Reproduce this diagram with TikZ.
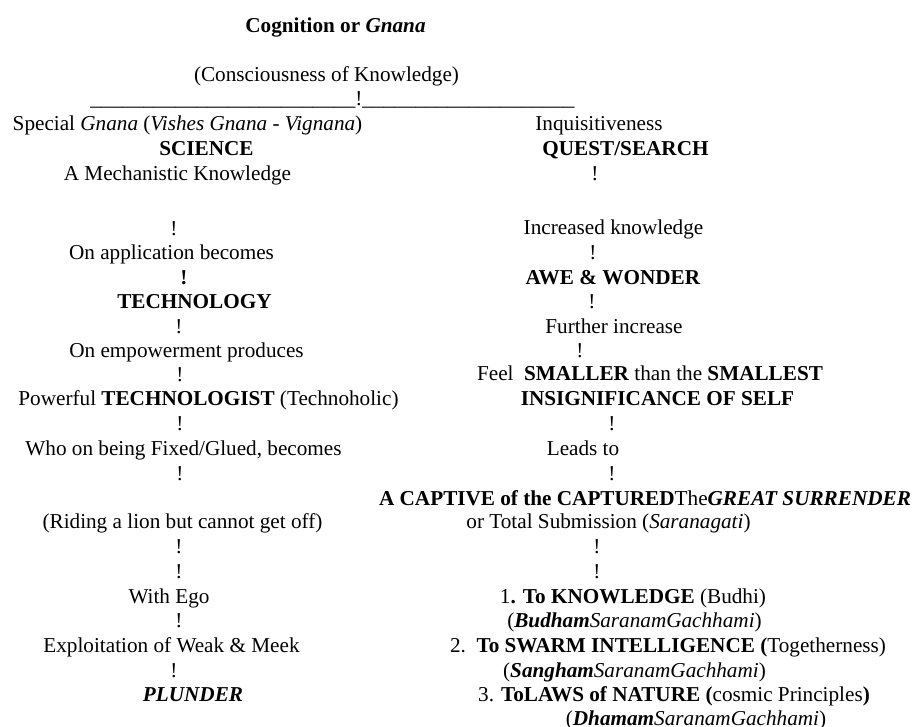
\documentclass[tikz,border=0pt]{standalone}
\usepackage{fontspec}
\setmainfont{Liberation Serif}
\newcommand{\bi}[1]{\textbf{\textit{#1}}}
\begin{document}
\begin{tikzpicture}[x=0.566pt, y=-0.566pt,
  every node/.style={anchor=base, inner sep=0pt, font=\fontsize{12}{14}\selectfont}]
\useasboundingbox (0,0) rectangle (915,727);

\node (title) at (335.5,33) {\textbf{Cognition or \textit{Gnana}}};
\node (consc) at (326.5,82) {(Consciousness of Knowledge)};
\node[anchor=base west] (split) at (90,106)
  {\_\_\_\_\_\_\_\_\_\_\_\_\_\_\_\_\_\_\_\_\_\_\_\_\_!\_\_\_\_\_\_\_\_\_\_\_\_\_\_\_\_\_\_\_\_};

% left branch
\node (special) at (187.5,131) {Special \textit{Gnana} (\textit{Vishes Gnana - Vignana})};
\node (science) at (206.5,155.5) {\textbf{SCIENCE}};
\node (mech) at (177.5,180) {A Mechanistic Knowledge};
\node (apply) at (171.5,259) {On application becomes};
\node (bangb) at (184,284) {\textbf{!}};
\node (techn) at (194.5,308) {\textbf{TECHNOLOGY}};
\node (empower) at (186.5,357) {On empowerment produces};
\node (powerful) at (208.5,405) {Powerful \textbf{TECHNOLOGIST} (Technoholic)};
\node (who) at (183.5,455) {Who on being Fixed/Glued, becomes};
\node (riding) at (182.5,528) {(Riding a lion but cannot get off)};
\node (ego) at (169,603) {With Ego};
\node (exploit) at (171.5,652) {Exploitation of Weak \& Meek};
\node (plunder) at (193,701) {\bi{PLUNDER}};
\foreach \x/\y/\n in {174/235/la, 179/333/lb, 180/381/lc, 180/430/ld, 180/480/le,
                      179/553/lf, 179/578/lg, 179/627/lh, 174/677/li}
{
    \node (\n) at (\x,\y) {!};
}

% right branch
\node (inq) at (599,131) {Inquisitiveness};
\node (quest) at (625.5,155.5) {\textbf{QUEST/SEARCH}};
\node (incr) at (613.5,234) {Increased knowledge};
\node (awe) at (613,284) {\textbf{AWE \& WONDER}};
\node (further) at (614,333) {Further increase};
\node (feel) at (650,380) {Feel\ \ \textbf{SMALLER} than the \textbf{SMALLEST}};
\node (insig) at (657.5,405) {\textbf{INSIGNIFICANCE OF SELF}};
\node (leads) at (583,455) {Leads to};
\node (captive) at (645,505) {\textbf{A CAPTIVE of the CAPTURED}The\bi{GREAT SURRENDER}};
\node (total) at (608.5,528) {or Total Submission (\textit{Saranagati})};
\node (know) at (633,603) {1\textbf{. To KNOWLEDGE} (Budhi)};
\node (budham) at (634.5,627) {(\bi{Budham}\textit{SaranamGachhami})};
\node (swarm) at (668,652) {2.\ \ \textbf{To SWARM INTELLIGENCE (}Togetherness)};
\node (sangham) at (634.5,677) {(\bi{Sangham}\textit{SaranamGachhami})};
\node (laws) at (674,701) {3. \textbf{ToLAWS of NATURE (}cosmic Principles\textbf{)}};
\node (dhamam) at (696,725) {(\bi{Dhamam}\textit{SaranamGachhami})};
\foreach \x/\y/\n in {595/180/ra, 593/259/rb, 592/308/rc, 580/357/rd,
                      612/430/re, 612/480/rf, 597/553/rg, 597/578/rh}
{
    \node (\n) at (\x,\y) {!};
}
\end{tikzpicture}
\end{document}
